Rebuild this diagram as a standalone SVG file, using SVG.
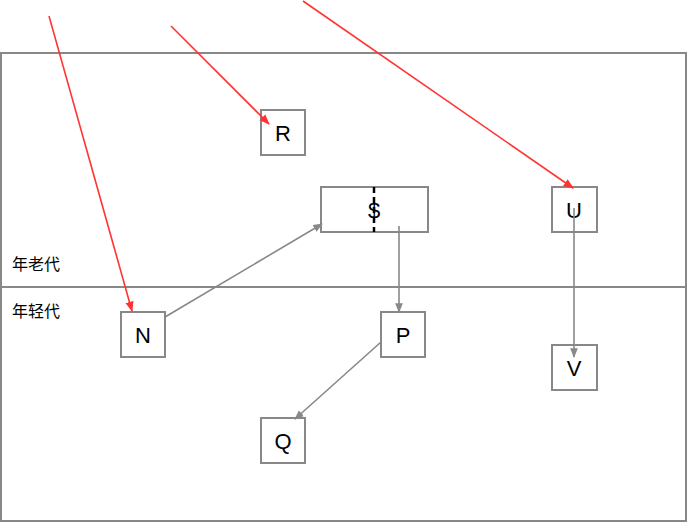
<svg xmlns="http://www.w3.org/2000/svg" width="687" height="523" viewBox="0 0 687 523">
<defs>
<style>
.box{fill:#fff;stroke:#888;stroke-width:2}
.lbl{font-family:"Liberation Sans",Arial,sans-serif;font-size:22px;fill:#000;text-anchor:middle}
.gen{font-family:"Noto Sans CJK SC","Noto Sans",sans-serif;font-size:16px;fill:#000}
.red{stroke:#f33;stroke-width:1.6;fill:none;marker-end:url(#ar)}
.grey{stroke:#888;stroke-width:1.6;fill:none;marker-end:url(#ag)}
</style>
<marker id="ar" viewBox="0 0 10 10" refX="9" refY="5" markerWidth="6.5" markerHeight="6.5" orient="auto" markerUnits="strokeWidth"><path d="M0,1 L10,5 L0,9 Z" fill="#f33"/></marker>
<marker id="ag" viewBox="0 0 10 10" refX="9" refY="5" markerWidth="6" markerHeight="6" orient="auto" markerUnits="strokeWidth"><path d="M0,1 L10,5 L0,9 Z" fill="#888"/></marker>
</defs>
<rect width="687" height="523" fill="#fff"/>
<g id="frame">
<rect x="1" y="53" width="685" height="468" fill="none" stroke="#888" stroke-width="2"/>
<line x1="1" y1="287" x2="686" y2="287" stroke="#888" stroke-width="2"/>
<text class="gen" x="12" y="270">年老代</text>
<text class="gen" x="12" y="317">年轻代</text>
</g>
<g id="R"><rect class="box" x="261" y="110" width="44" height="45"/><text class="lbl" x="283" y="141">R</text></g>
<g id="S"><rect class="box" x="321" y="187" width="107" height="45"/><line x1="374" y1="187" x2="374" y2="232" stroke="#000" stroke-width="2.5" stroke-dasharray="6,4"/><text class="lbl" x="374" y="218">$</text></g>
<g id="U"><rect class="box" x="552" y="187" width="45" height="45"/><text class="lbl" x="574" y="218">U</text></g>
<g id="N"><rect class="box" x="121" y="312" width="44" height="45"/><text class="lbl" x="143" y="343">N</text></g>
<g id="P"><rect class="box" x="381" y="312" width="44" height="45"/><text class="lbl" x="403" y="343">P</text></g>
<g id="V"><rect class="box" x="552" y="345" width="45" height="45"/><text class="lbl" x="574" y="376">V</text></g>
<g id="Q"><rect class="box" x="261" y="418" width="44" height="45"/><text class="lbl" x="283" y="449">Q</text></g>
<g id="connectors">
<line class="red" x1="49" y1="16" x2="132" y2="311"/>
<line class="red" x1="171" y1="26" x2="269" y2="124"/>
<line class="red" x1="303" y1="1" x2="573" y2="188"/>
<line class="grey" x1="165" y1="317" x2="322" y2="224"/>
<line class="grey" x1="399" y1="226" x2="399" y2="312"/>
<line class="grey" x1="381" y1="342" x2="295" y2="419"/>
<line class="grey" x1="574" y1="208" x2="574" y2="357"/>
</g>
</svg>
